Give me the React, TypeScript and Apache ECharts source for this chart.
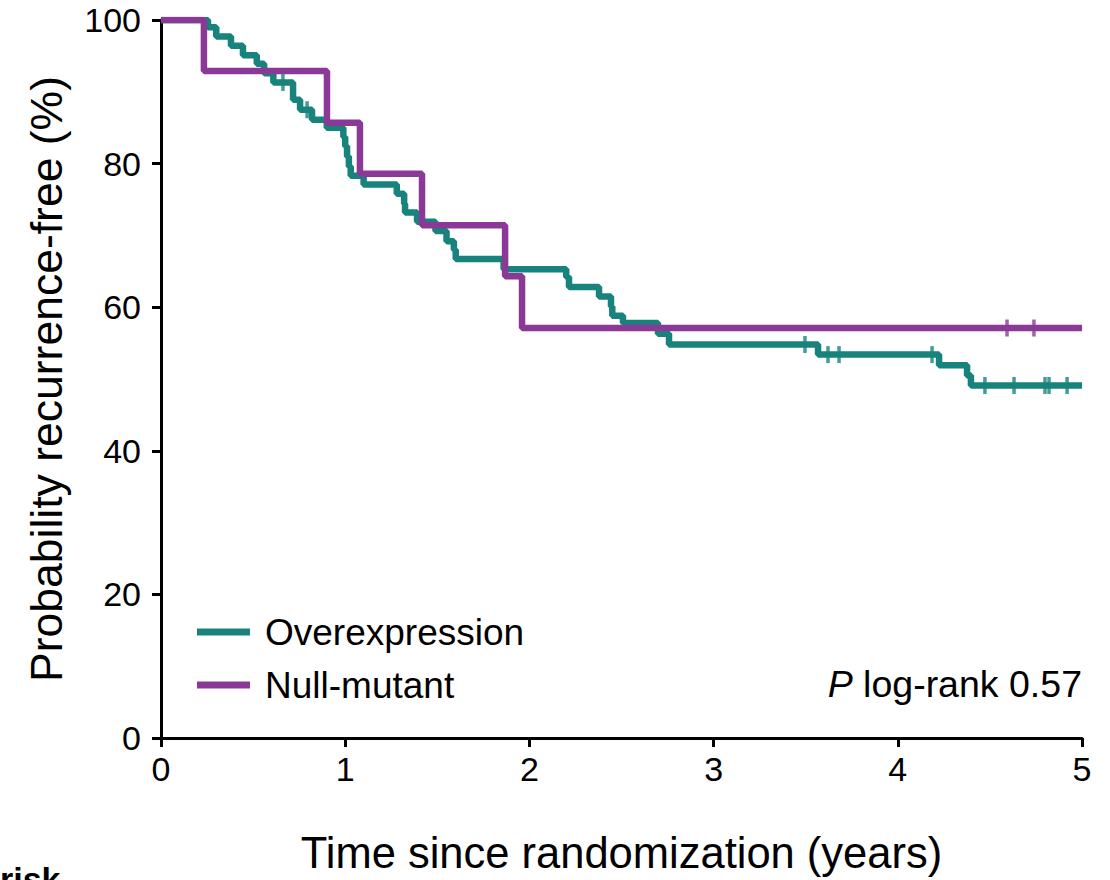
import React, { useEffect, useRef } from "react";
import * as echarts from "echarts";

// Overexpression (teal) Kaplan-Meier steps: time (years) where level drops, new level (%)
const tealTimes = [0, 0.255, 0.3, 0.38, 0.445, 0.52, 0.56, 0.61, 0.717, 0.755, 0.82, 0.9, 0.99, 1.0, 1.01, 1.02, 1.03, 1.1, 1.28, 1.32, 1.325, 1.39, 1.49, 1.55, 1.59, 1.6, 1.86, 2.2, 2.215, 2.378, 2.443, 2.45, 2.508, 2.698, 2.758, 3.567, 4.224, 4.376, 4.397, 5.0];
const tealLevels = [100, 99.0, 97.7, 96.4, 95.1, 93.9, 92.6, 91.3, 88.9, 87.5, 86.1, 85.0, 83.7, 82.4, 81.0, 79.6, 78.3, 77.1, 75.8, 74.4, 73.2, 71.9, 70.6, 69.2, 68.0, 66.7, 65.3, 64.2, 62.8, 61.5, 60.1, 58.8, 57.8, 56.3, 54.8, 53.4, 51.9, 50.5, 49.1, 49.1];
const tealCensored = [0.662, 0.793, 3.496, 3.621, 3.681, 4.186, 4.473, 4.631, 4.799, 4.821, 4.919];

// Null-mutant (purple)
const purpleTimes = [0, 0.233, 0.901, 1.08, 1.417, 1.868, 1.96, 5.0];
const purpleLevels = [100, 92.9, 85.7, 78.6, 71.4, 64.3, 57.1, 57.1];
const purpleCensored = [4.593, 4.739];

const xTicks = [0, 1, 2, 3, 4, 5];
const yTicks = [0, 20, 40, 60, 80, 100];

const seriesNames = ["Overexpression", "Null-mutant"];
const TEAL = "#17837c";
const PURPLE = "#8a3996";
const FONT = "'Liberation Sans', Arial, Helvetica, sans-serif";

function levelAt(times: number[], levels: number[], t: number): number {
  let v = levels[0];
  for (let i = 0; i < times.length; i++) {
    if (times[i] <= t) v = levels[i];
  }
  return v;
}

export default function App() {
  const ref = useRef<HTMLDivElement>(null);
  useEffect(() => {
    if (!ref.current) return;
    const chart = echarts.init(ref.current, null, { renderer: "svg" });
    const tealData = tealTimes.map((t, i) => [t, tealLevels[i]]);
    const purpleData = purpleTimes.map((t, i) => [t, purpleLevels[i]]);
    const tealCens = tealCensored.map((t) => [t, levelAt(tealTimes, tealLevels, t)]);
    const purpleCens = purpleCensored.map((t) => [t, levelAt(purpleTimes, purpleLevels, t)]);
    chart.setOption({
      animation: false,
      backgroundColor: "#ffffff",
      textStyle: { fontFamily: FONT },
      grid: { left: 161, right: 28, top: 20, bottom: 140, containLabel: false },
      legend: {
        data: seriesNames,
        orient: "vertical",
        left: 192,
        top: 608,
        icon: "rect",
        itemWidth: 53,
        itemHeight: 7,
        itemGap: 15,
        textStyle: { fontSize: 37, color: "#000", fontFamily: FONT, padding: [0, 0, 0, 10], lineHeight: 38 },
      },
      xAxis: {
        type: "value",
        min: xTicks[0],
        max: xTicks[xTicks.length - 1],
        interval: 1,
        name: "Time since randomization (years)",
        nameLocation: "middle",
        nameGap: 93,
        nameTextStyle: { fontSize: 43.5, color: "#000", fontFamily: FONT },
        axisLine: { onZero: false, lineStyle: { color: "#000", width: 3 } },
        axisTick: { length: 9, lineStyle: { color: "#000", width: 3 } },
        axisLabel: { fontSize: 34, color: "#000", margin: 14, fontFamily: FONT },
        splitLine: { show: false },
      },
      yAxis: {
        type: "value",
        min: yTicks[0],
        max: yTicks[yTicks.length - 1],
        interval: 20,
        name: "Probability recurrence-free (%)",
        nameLocation: "middle",
        nameGap: 92,
        nameTextStyle: { fontSize: 44.5, color: "#000", fontFamily: FONT },
        axisLine: { onZero: false, lineStyle: { color: "#000", width: 3 } },
        axisTick: { length: 9, lineStyle: { color: "#000", width: 3 } },
        axisLabel: { fontSize: 34, color: "#000", margin: 20, fontFamily: FONT },
        splitLine: { show: false },
      },
      series: [
        {
          name: seriesNames[0],
          type: "line",
          step: "end",
          data: tealData,
          symbol: "none",
          lineStyle: { color: TEAL, width: 6.5 },
          itemStyle: { color: TEAL },
          z: 2,
        },
        {
          name: seriesNames[1],
          type: "line",
          step: "end",
          data: purpleData,
          symbol: "none",
          lineStyle: { color: PURPLE, width: 6.5 },
          itemStyle: { color: PURPLE },
          z: 3,
        },
        {
          name: seriesNames[0],
          type: "scatter",
          data: tealCens,
          symbol: "rect",
          symbolSize: [3.5, 17],
          itemStyle: { color: TEAL },
          z: 4,
        },
        {
          name: seriesNames[1],
          type: "scatter",
          data: purpleCens,
          symbol: "rect",
          symbolSize: [3.5, 17],
          itemStyle: { color: PURPLE },
          z: 4,
        },
      ],
      graphic: [
        {
          type: "text",
          right: 28,
          top: 665,
          style: {
            text: "{i|P} log-rank 0.57",
            fontSize: 37.5,
            fontFamily: FONT,
            fill: "#000",
            rich: { i: { fontStyle: "italic", fontSize: 37.5, fontFamily: FONT } },
          },
        },
        {
          type: "text",
          left: 0,
          top: 862,
          style: {
            text: "risk",
            fontSize: 34,
            fontWeight: "bold",
            fontFamily: FONT,
            fill: "#000",
          },
        },
      ],
    });
    return () => chart.dispose();
  }, []);
  return (
    <div
      ref={ref}
      style={{ position: "fixed", left: 0, top: 0, width: 1110, height: 880, background: "#fff" }}
    />
  );
}
